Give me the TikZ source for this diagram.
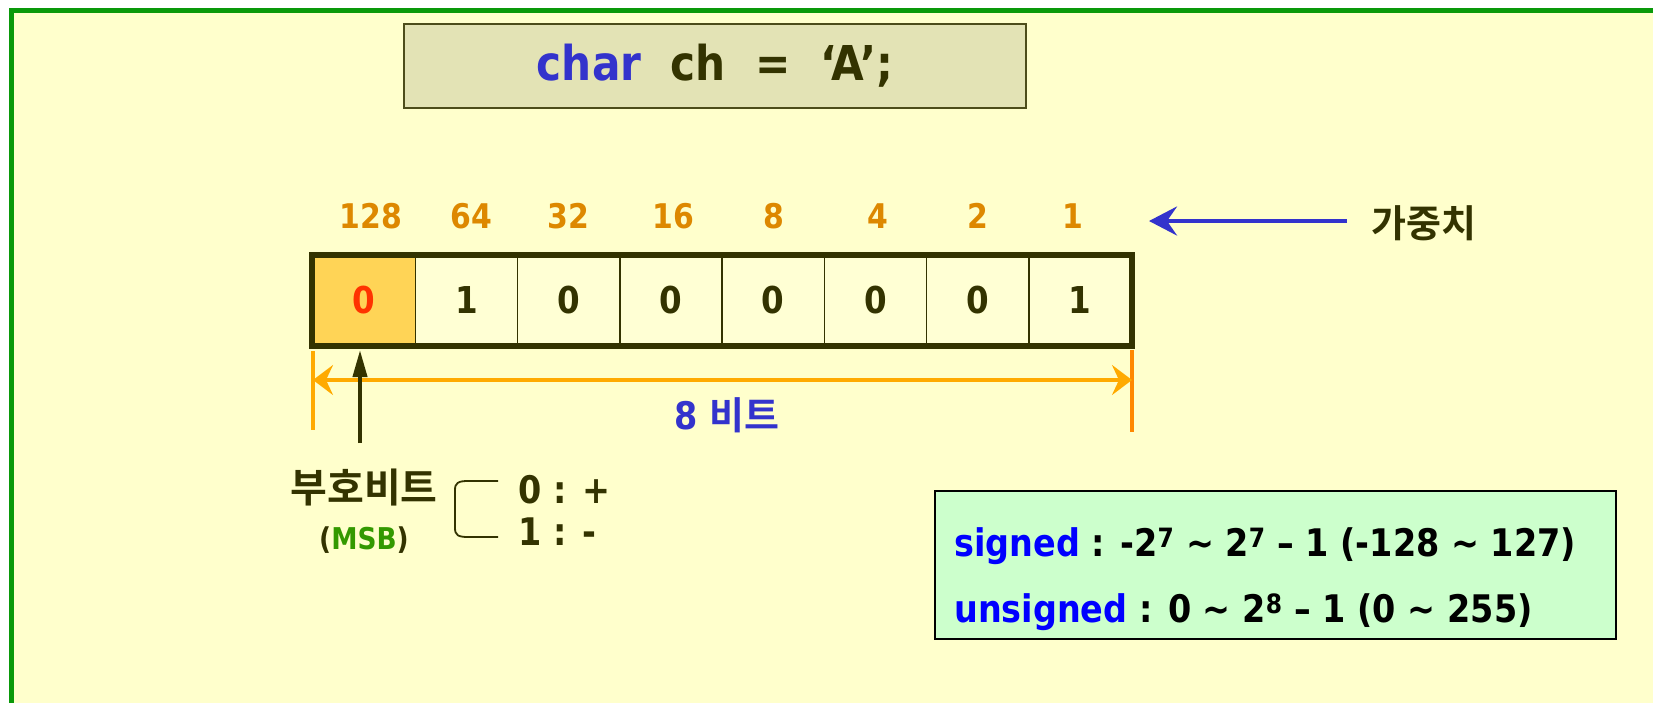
\documentclass[tikz,border=0pt]{standalone}
\usepackage{fontspec}
\setmainfont{DejaVu Sans}[FakeStretch=0.88]
\newfontfamily\kr{Noto Sans CJK KR}[BoldFont={* Bold}]
\usetikzlibrary{arrows.meta}
\definecolor{bgyellow}{HTML}{FFFFCC}
\definecolor{framegreen}{HTML}{0A990A}
\definecolor{olive}{HTML}{333300}
\definecolor{codefill}{HTML}{E3E3B5}
\definecolor{codeline}{HTML}{4D4D1A}
\definecolor{wtorange}{HTML}{DD8800}
\definecolor{gold}{HTML}{FFD456}
\definecolor{cellfill}{HTML}{FFFFD4}
\definecolor{bitred}{HTML}{FF3300}
\definecolor{tblue}{HTML}{3333CC}
\definecolor{sblue}{HTML}{0000FF}
\definecolor{msbgreen}{HTML}{339900}
\definecolor{boxgreen}{HTML}{CCFFCC}
\definecolor{dimorange}{HTML}{FFAA00}
\definecolor{dimorange2}{HTML}{FF8800}
\tikzset{
  txt/.style={inner sep=0pt, font=\bfseries\fontsize{#1}{#1}\selectfont},
  txt/.default=32,
  krtxt/.style={inner sep=0pt, font=\kr\bfseries\fontsize{#1}{#1}\selectfont},
  codebox/.style={draw=codeline, line width=2.5pt, fill=codefill, minimum width=622pt, minimum height=84pt, inner sep=0pt, font=\bfseries\fontsize{48}{52}\selectfont, text=olive},
  bitcell/.style={draw=olive, line width=1.5pt, fill=cellfill, minimum width=102.25pt, minimum height=89pt, inner sep=0pt, font=\bfseries\fontsize{37}{40}\selectfont, text=olive},
  weight/.style={txt=34, text=wtorange},
  dimline/.style={line width=4pt},
}
\begin{document}
\begin{tikzpicture}[x=1pt,y=-1pt]
\useasboundingbox (0,0) rectangle (1653,702);
\fill[white] (0,0) rectangle (1653,702);
\draw[framegreen, line width=5pt, fill=bgyellow] (11,10) rectangle (1730,790);

% code box
\node[codebox] (code) at (715,66) {{\color{tblue}char}\ \ ch\ \ =\ \ ‘A’;};

% bit cells
\foreach \i/\b in {0/0,1/1,2/0,3/0,4/0,5/0,6/0,7/1}{
  \node[bitcell] (c\i) at ({313+102.25*(\i+0.5)},300.5) {\b};
}
\node[bitcell, fill=gold, text=bitred] (c0) at ({313+102.25*0.5},300.5) {0};
\draw[olive, line width=6pt] (c0.north west) rectangle (c7.south east);

% weights
\foreach \i/\w/\x in {0/128/371,1/64/471,2/32/568,3/16/673,4/8/774,5/4/878,6/2/978,7/1/1073}{
  \node[weight] (w\i) at (\x,216) {\w};
}

% weight arrow
\coordinate (wa) at (1347,221);
\coordinate (wb) at (1149,221);
\draw[tblue, line width=4pt, -{Stealth[length=28pt,width=29pt,inset=10pt]}] (wa) -- (wb);
\node[krtxt=38, text=olive] (gz) at (1424,223) {가중치};

% dimension
\coordinate (lt) at (313,351);
\coordinate (lb) at (313,430);
\coordinate (rt) at (1132,350);
\coordinate (rb) at (1132,432);
\coordinate (al) at (313,380);
\coordinate (ar) at (1132,380);
\draw[dimorange, dimline] (lt) -- (lb);
\draw[dimorange2, dimline] (rt) -- (rb);
\draw[dimorange, line width=4pt, {Stealth[length=20pt,width=30pt,inset=7pt]}-{Stealth[length=20pt,width=30pt,inset=7pt]}] (al) -- (ar);
\node[txt=38, text=tblue] (nb) at (727,415) {8 {\kr 비트}};

% sign bit arrow
\coordinate (sa) at (360,443);
\coordinate (sb) at (360,350);
\draw[olive, line width=4pt, -{Triangle[length=27pt,width=14pt]}] (sa) -- (sb);
\node[krtxt=40, text=olive] (sign) at (364,488) {부호비트};
\node[txt=30, text=olive] (msb) at (364,540) {(\textcolor{msbgreen}{MSB})};

% brace
\coordinate (bt) at (498,481);
\coordinate (bb) at (498,537);
\draw[olive, line width=1.8pt] (bt) -- (468,481) .. controls (458,481) and (455,483) .. (455,490) -- (455,528) .. controls (455,535) and (458,537) .. (468,537) -- (bb);
\node[txt=38, text=olive, anchor=west] (plus) at (518,490) {0 : +};
\node[txt=38, text=olive, anchor=west] (minus) at (518,532) {1 : -};

% range box
\node[draw=black, line width=2.5pt, fill=boxgreen, minimum width=681pt, minimum height=148pt, inner sep=0pt] (rng) at (1275.5,565) {};
\node[txt=38, text=black, anchor=west] (sg) at (954,546) {\textcolor{sblue}{signed} : -2\textsuperscript{7} \textasciitilde{} 2\textsuperscript{7} – 1 (-128 \textasciitilde{} 127)};
\node[txt=38, text=black, anchor=west] (us) at (954,612) {\textcolor{sblue}{unsigned} : 0 \textasciitilde{} 2\textsuperscript{8} – 1 (0 \textasciitilde{} 255)};
\end{tikzpicture}
\end{document}
